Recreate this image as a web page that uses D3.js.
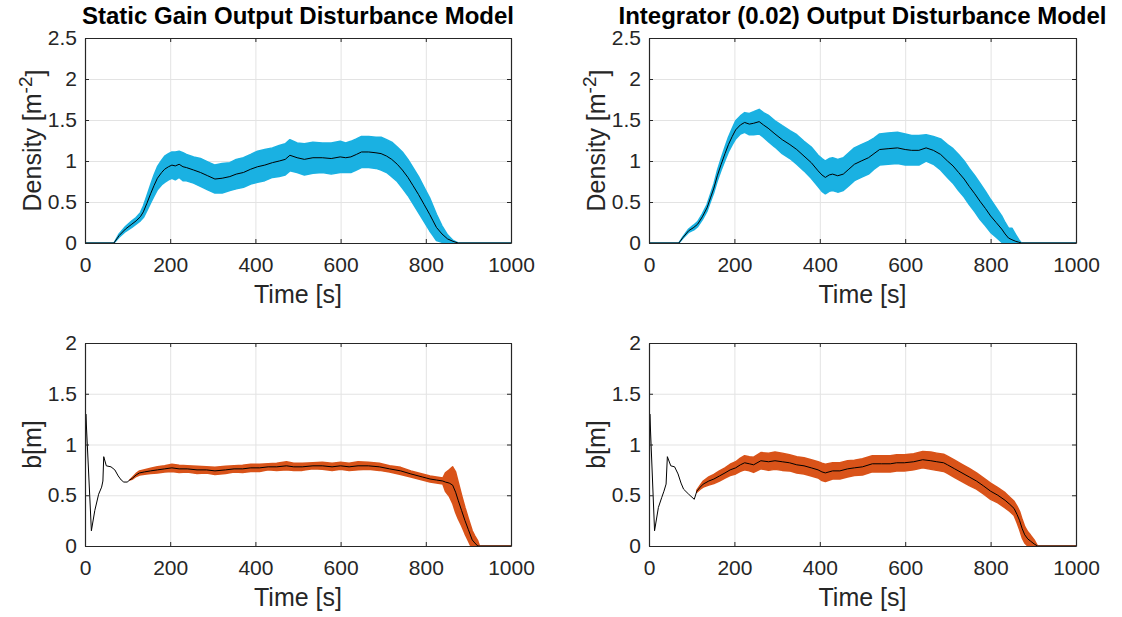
<!DOCTYPE html>
<html>
<head>
<meta charset="utf-8">
<script src="https://cdn.jsdelivr.net/npm/d3@7"></script>
<style>
  body { margin: 0; background: #fff; }
  svg { display: block; font-family: "Liberation Sans", Arial, Helvetica, sans-serif; }
</style>
</head>
<body>
<div class="figure"></div>
<script>
// ---- data ----
// top left: static gain, density
var timeTL = [0, 68, 80, 95, 110, 120, 130, 137, 145, 154, 162, 170, 180, 187, 196, 204, 212, 221, 230, 238, 255, 271, 288, 305, 322, 340, 355, 372, 389, 405, 422, 440, 456, 470, 481, 498, 515, 535, 557, 578, 599, 612, 624, 637, 649, 666, 683, 695, 708, 720, 733, 745, 758, 770, 783, 796, 809, 817, 825, 838, 851, 864, 876, 1000];
var meanTL = [0, 0, 0.09, 0.17, 0.23, 0.27, 0.32, 0.38, 0.48, 0.60, 0.70, 0.79, 0.86, 0.90, 0.93, 0.95, 0.94, 0.96, 0.93, 0.92, 0.89, 0.86, 0.82, 0.78, 0.79, 0.81, 0.84, 0.86, 0.90, 0.93, 0.95, 0.98, 1.00, 1.02, 1.07, 1.04, 1.02, 1.04, 1.04, 1.03, 1.05, 1.04, 1.05, 1.08, 1.11, 1.11, 1.10, 1.09, 1.06, 1.02, 0.96, 0.89, 0.80, 0.70, 0.59, 0.47, 0.35, 0.27, 0.19, 0.11, 0.05, 0.02, 0, 0];
var spreadTL = [0, 0, 0.02, 0.03, 0.04, 0.04, 0.05, 0.07, 0.09, 0.11, 0.13, 0.14, 0.15, 0.16, 0.16, 0.16, 0.17, 0.16, 0.17, 0.16, 0.16, 0.17, 0.17, 0.17, 0.18, 0.17, 0.18, 0.18, 0.18, 0.19, 0.19, 0.18, 0.19, 0.19, 0.19, 0.18, 0.19, 0.19, 0.18, 0.19, 0.19, 0.18, 0.19, 0.19, 0.19, 0.19, 0.19, 0.20, 0.20, 0.21, 0.21, 0.22, 0.22, 0.22, 0.22, 0.21, 0.20, 0.18, 0.16, 0.10, 0.05, 0.01, 0, 0];

// top right: integrator, density
var timeTR = [0, 70, 80, 93, 105, 114, 125, 136, 144, 152, 160, 169, 178, 186, 195, 203, 214, 224, 235, 245, 258, 268, 279, 295, 312, 330, 346, 363, 380, 396, 405, 413, 422, 430, 442, 455, 468, 481, 497, 514, 527, 540, 560, 582, 600, 615, 632, 649, 666, 683, 699, 712, 725, 738, 750, 763, 775, 788, 800, 813, 826, 834, 842, 850, 859, 866, 872, 1000];
var meanTR = [0, 0, 0.07, 0.15, 0.19, 0.23, 0.32, 0.43, 0.55, 0.67, 0.82, 0.96, 1.09, 1.20, 1.30, 1.38, 1.44, 1.47, 1.45, 1.46, 1.48, 1.44, 1.40, 1.33, 1.26, 1.20, 1.14, 1.06, 0.98, 0.88, 0.83, 0.80, 0.83, 0.84, 0.82, 0.84, 0.90, 0.96, 1.00, 1.04, 1.09, 1.14, 1.15, 1.16, 1.14, 1.13, 1.13, 1.16, 1.13, 1.08, 1.00, 0.94, 0.86, 0.78, 0.69, 0.60, 0.51, 0.42, 0.33, 0.25, 0.17, 0.11, 0.06, 0.04, 0.02, 0.01, 0, 0];
var spreadTR = [0, 0, 0.01, 0.02, 0.03, 0.03, 0.035, 0.04, 0.045, 0.05, 0.06, 0.07, 0.08, 0.09, 0.10, 0.11, 0.11, 0.12, 0.13, 0.14, 0.15, 0.15, 0.16, 0.16, 0.17, 0.17, 0.18, 0.18, 0.19, 0.19, 0.20, 0.20, 0.20, 0.20, 0.20, 0.20, 0.20, 0.20, 0.20, 0.20, 0.19, 0.19, 0.19, 0.19, 0.19, 0.18, 0.18, 0.16, 0.17, 0.19, 0.20, 0.21, 0.22, 0.22, 0.22, 0.22, 0.22, 0.21, 0.20, 0.18, 0.16, 0.14, 0.12, 0.14, 0.08, 0.03, 0, 0];

// bottom left: static gain, b
var timeBL = [0, 2, 15, 23, 32, 39, 42, 44, 50, 61, 70, 78, 85, 91, 99, 105, 112, 120, 128, 140, 154, 170, 187, 204, 221, 240, 263, 285, 305, 330, 350, 370, 389, 410, 430, 450, 473, 490, 510, 535, 557, 580, 600, 620, 641, 665, 691, 715, 741, 765, 792, 810, 825, 840, 846, 855, 863, 870, 876, 884, 892, 900, 909, 915, 922, 926, 1000];
var meanBL = [0, 1.30, 0.15, 0.35, 0.51, 0.58, 0.64, 0.88, 0.79, 0.78, 0.75, 0.69, 0.65, 0.63, 0.63, 0.65, 0.67, 0.70, 0.72, 0.73, 0.74, 0.75, 0.76, 0.77, 0.76, 0.76, 0.75, 0.75, 0.74, 0.75, 0.76, 0.76, 0.77, 0.77, 0.78, 0.78, 0.79, 0.78, 0.78, 0.79, 0.79, 0.78, 0.79, 0.78, 0.79, 0.79, 0.78, 0.76, 0.74, 0.71, 0.68, 0.66, 0.65, 0.64, 0.63, 0.62, 0.60, 0.53, 0.45, 0.35, 0.25, 0.16, 0.06, 0.03, 0, 0, 0];
var spreadBL = [null, null, null, null, null, null, null, null, null, null, null, null, null, null, null, 0, 0.01, 0.015, 0.02, 0.022, 0.025, 0.03, 0.03, 0.035, 0.035, 0.03, 0.035, 0.03, 0.035, 0.035, 0.03, 0.035, 0.035, 0.035, 0.03, 0.035, 0.04, 0.035, 0.035, 0.03, 0.035, 0.035, 0.035, 0.035, 0.04, 0.035, 0.035, 0.03, 0.035, 0.03, 0.03, 0.03, 0.03, 0.03, 0.09, 0.13, 0.18, 0.20, 0.18, 0.15, 0.13, 0.11, 0.09, 0.07, 0.05, 0, 0];

// bottom right: integrator, b
var timeBR = [0, 2, 13, 22, 30, 35, 40, 43, 51, 60, 68, 75, 81, 93, 106, 112, 120, 127, 140, 152, 165, 178, 190, 203, 214, 224, 235, 245, 262, 280, 295, 312, 329, 346, 363, 380, 396, 405, 413, 430, 447, 465, 481, 500, 523, 545, 565, 580, 598, 620, 641, 660, 674, 690, 699, 716, 733, 750, 767, 784, 800, 817, 834, 845, 855, 862, 868, 874, 880, 887, 893, 902, 910, 1000];
var meanBR = [0, 1.30, 0.15, 0.38, 0.48, 0.54, 0.61, 0.88, 0.79, 0.78, 0.71, 0.62, 0.56, 0.51, 0.46, 0.54, 0.58, 0.61, 0.64, 0.66, 0.69, 0.72, 0.75, 0.77, 0.80, 0.82, 0.81, 0.80, 0.84, 0.83, 0.84, 0.83, 0.82, 0.80, 0.79, 0.77, 0.75, 0.73, 0.72, 0.74, 0.74, 0.76, 0.77, 0.78, 0.81, 0.81, 0.81, 0.82, 0.82, 0.83, 0.85, 0.84, 0.83, 0.82, 0.80, 0.76, 0.72, 0.68, 0.64, 0.59, 0.54, 0.50, 0.45, 0.41, 0.37, 0.31, 0.25, 0.17, 0.11, 0.07, 0.05, 0.02, 0, 0];
var spreadBR = [null, null, null, null, null, null, null, null, null, null, null, null, null, null, null, 0.01, 0.02, 0.03, 0.04, 0.045, 0.05, 0.05, 0.055, 0.06, 0.065, 0.07, 0.07, 0.075, 0.08, 0.085, 0.085, 0.085, 0.08, 0.08, 0.08, 0.08, 0.08, 0.085, 0.085, 0.08, 0.08, 0.08, 0.075, 0.08, 0.08, 0.08, 0.08, 0.08, 0.08, 0.08, 0.08, 0.085, 0.085, 0.085, 0.085, 0.085, 0.085, 0.085, 0.08, 0.08, 0.08, 0.075, 0.075, 0.07, 0.07, 0.08, 0.09, 0.09, 0.08, 0.07, 0.06, 0.04, 0, 0];

var titles = ['Static Gain Output Disturbance Model', 'Integrator (0.02) Output Disturbance Model'];
var xTicks = [0, 200, 400, 600, 800, 1000];
var yTicksDensity = [0, 0.5, 1, 1.5, 2, 2.5];
var yTicksB = [0, 0.5, 1, 1.5, 2];

// ---- layout ----
const W = 1122, H = 617;
const blue = '#1AB1E2', orange = '#D95319', ink = '#262626';
const fontStack = '"Liberation Sans", Arial, Helvetica, sans-serif';

var panels = [
  {box: {left: 85, right: 511, top: 38, bottom: 243}, t: timeTL, m: meanTL, s: spreadTL, color: blue, yMax: 2.5, yTicks: yTicksDensity, ylab: 'density', title: titles[0]},
  {box: {left: 649, right: 1076, top: 38, bottom: 243}, t: timeTR, m: meanTR, s: spreadTR, color: blue, yMax: 2.5, yTicks: yTicksDensity, ylab: 'density', title: titles[1]},
  {box: {left: 85, right: 511, top: 343, bottom: 546}, t: timeBL, m: meanBL, s: spreadBL, color: orange, yMax: 2, yTicks: yTicksB, ylab: 'b'},
  {box: {left: 649, right: 1076, top: 343, bottom: 546}, t: timeBR, m: meanBR, s: spreadBR, color: orange, yMax: 2, yTicks: yTicksB, ylab: 'b'}
];

var svg = d3.select('.figure')
            .append('svg')
            .attr('width', W)
            .attr('height', H);

var fmt = d => String(d);

panels.forEach((p, k) => {
  var b = p.box;
  var x = d3.scaleLinear().domain([0, 1000]).range([b.left, b.right]);
  var y = d3.scaleLinear().domain([0, p.yMax]).range([b.bottom, b.top]);
  var iw = b.right - b.left, ih = b.bottom - b.top;

  var pts = p.t.map((t, i) => ({t: t, m: p.m[i], s: p.s[i]}));

  svg.append('clipPath')
     .attr('id', 'clip' + k)
     .append('rect')
     .attr('x', b.left).attr('y', b.top)
     .attr('width', iw).attr('height', ih);

  // grid
  var grid = svg.append('g').attr('class', 'grid');
  grid.append('g')
      .attr('transform', `translate(0,${b.bottom})`)
      .call(d3.axisBottom(x).tickValues(xTicks).tickSize(-ih).tickFormat(''));
  grid.append('g')
      .attr('transform', `translate(${b.left},0)`)
      .call(d3.axisLeft(y).tickValues(p.yTicks).tickSize(-iw).tickFormat(''));
  grid.selectAll('.domain').remove();
  grid.selectAll('line').attr('stroke', '#e3e3e3').attr('stroke-width', 1);

  var plot = svg.append('g').attr('clip-path', `url(#clip${k})`);

  // spread band
  var band = d3.area()
               .defined(d => d.s !== null)
               .x(d => x(d.t))
               .y0(d => y(d.m - d.s))
               .y1(d => y(d.m + d.s));
  plot.append('path')
      .datum(pts)
      .attr('d', band)
      .attr('fill', p.color)
      .attr('stroke', p.color)
      .attr('stroke-width', 1.5)
      .attr('stroke-linejoin', 'round');

  // mean line
  var line = d3.line().x(d => x(d.t)).y(d => y(d.m));
  plot.append('path')
      .datum(pts)
      .attr('d', line)
      .attr('fill', 'none')
      .attr('stroke', '#000')
      .attr('stroke-width', 1);

  // axes with inward ticks, on all four sides
  var tick = 4;
  var ax = svg.append('g').attr('class', 'axes');
  ax.append('g')
    .attr('transform', `translate(0,${b.bottom})`)
    .call(d3.axisBottom(x).tickValues(xTicks).tickSizeInner(-tick).tickSizeOuter(0).tickPadding(14).tickFormat(fmt));
  ax.append('g')
    .attr('transform', `translate(0,${b.top})`)
    .call(d3.axisTop(x).tickValues(xTicks).tickSizeInner(-tick).tickSizeOuter(0).tickFormat(''));
  ax.append('g')
    .attr('transform', `translate(${b.left},0)`)
    .call(d3.axisLeft(y).tickValues(p.yTicks).tickSizeInner(-tick).tickSizeOuter(0).tickPadding(8).tickFormat(fmt));
  ax.append('g')
    .attr('transform', `translate(${b.right},0)`)
    .call(d3.axisRight(y).tickValues(p.yTicks).tickSizeInner(-tick).tickSizeOuter(0).tickFormat(''));
  ax.selectAll('.domain').attr('stroke', ink).attr('stroke-width', 1.2);
  ax.selectAll('line').attr('stroke', ink).attr('stroke-width', 1);
  ax.selectAll('text')
    .attr('fill', ink)
    .style('font-family', fontStack)
    .style('font-size', '21px');

  // x label
  svg.append('text')
     .attr('x', (b.left + b.right) / 2)
     .attr('y', b.bottom + 60)
     .attr('text-anchor', 'middle')
     .attr('fill', ink)
     .style('font-size', '25px')
     .text('Time [s]');

  // y label
  var yl = svg.append('text')
              .attr('transform', `translate(${b.left - 44},${(b.top + b.bottom) / 2}) rotate(-90)`)
              .attr('text-anchor', 'middle')
              .attr('fill', ink)
              .style('font-size', '25px');
  if (p.ylab === 'density') {
    yl.append('tspan').text('Density [m');
    yl.append('tspan').attr('dy', '-0.45em').style('font-size', '19px').text('-2');
    yl.append('tspan').attr('dy', '0.45em').text(']');
  } else {
    yl.text('b[m]');
  }

  // title
  if (p.title) {
    svg.append('text')
       .attr('x', (b.left + b.right) / 2)
       .attr('y', 24)
       .attr('text-anchor', 'middle')
       .attr('fill', '#000')
       .style('font-size', '24px')
       .style('font-weight', 'bold')
       .text(p.title);
  }
});
</script>
</body>
</html>
